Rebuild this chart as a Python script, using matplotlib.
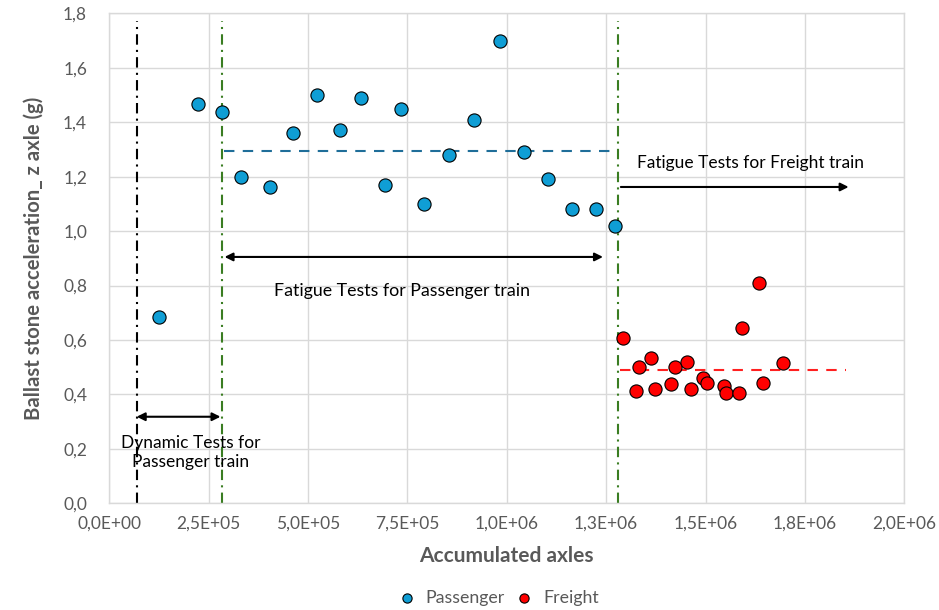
import matplotlib.pyplot as plt
from matplotlib.ticker import FixedLocator

plt.rcParams['font.family'] = ['Lato', 'DejaVu Sans']

# passenger train results
pass_x = [125800, 223100, 282800, 332100, 403500, 461400, 522500, 581200, 633200,
          693600, 733100, 792500, 853800, 918700, 982900, 1043300, 1103700,
          1164000, 1223600, 1273000]
pass_y = [0.686, 1.466, 1.439, 1.199, 1.161, 1.360, 1.499, 1.370, 1.489,
          1.170, 1.449, 1.101, 1.280, 1.408, 1.700, 1.289, 1.191,
          1.080, 1.080, 1.018]

# freight train results
frt_x = [1293100, 1324300, 1333400, 1362800, 1372800, 1413900, 1423900, 1453300,
         1462700, 1493600, 1504400, 1545700, 1552200, 1583400, 1592500, 1634500,
         1643800, 1694100]
frt_y = [0.608, 0.413, 0.500, 0.533, 0.419, 0.439, 0.500, 0.519,
         0.419, 0.461, 0.443, 0.430, 0.405, 0.405, 0.645, 0.808,
         0.443, 0.514]

pass_mean = 1.293
frt_mean = 0.490

# limits of the test phases
dyn_start = 69000
fat_pass_start = 282700
fat_frt_start = 1279000

xticks = [0, 250000, 500000, 750000, 1000000, 1250000, 1500000, 1750000, 2000000]
xlabels = ['0,0E+00', '2,5E+05', '5,0E+05', '7,5E+05', '1,0E+06', '1,3E+06',
           '1,5E+06', '1,8E+06', '2,0E+06']
yticks = [0.0, 0.2, 0.4, 0.6, 0.8, 1.0, 1.2, 1.4, 1.6, 1.8]
ylabels = ['0,0', '0,2', '0,4', '0,6', '0,8', '1,0', '1,2', '1,4', '1,6', '1,8']

grey = '#595959'
grid_c = '#D9D9D9'
green = '#3A7D22'

fig = plt.figure(figsize=(9.39, 6.10), dpi=100)
ax = fig.add_axes([0.1164, 0.1749, 0.8466, 0.8033])

ax.set_xlim(0, 2000000)
ax.set_ylim(0, 1.8)
ax.xaxis.set_major_locator(FixedLocator(xticks))
ax.set_xticklabels(xlabels)
ax.yaxis.set_major_locator(FixedLocator(yticks))
ax.set_yticklabels(ylabels)
ax.tick_params(length=0, labelsize=12.5, colors=grey)
ax.tick_params(axis='y', pad=16)
ax.tick_params(axis='x', pad=9)
ax.grid(True, color=grid_c, lw=1)
ax.set_axisbelow(True)
for s in ax.spines.values():
    s.set_color(grid_c)
    s.set_linewidth(1)

# phase boundaries
dd = (0, (5, 2.5, 1, 2.5))
ax.axvline(dyn_start, color='black', lw=1.5, ls=dd, ymax=0.985)
ax.axvline(fat_pass_start, color=green, lw=1.5, ls=dd, ymax=0.985)
ax.axvline(fat_frt_start, color=green, lw=1.5, ls=dd, ymax=0.985)

# mean levels
ax.hlines(pass_mean, 288000, 1265000, color='#1F6E99', lw=1.5, ls=(0, (5, 4)))
ax.hlines(frt_mean, 1284000, 1853000, color='#FF2020', lw=1.5, ls=(0, (5, 4)))

ax.scatter(pass_x, pass_y, s=90, c='#0F9ED5', edgecolors='black', linewidths=0.8,
           zorder=4, label='Passenger')
ax.scatter(frt_x, frt_y, s=90, c='#FF0000', edgecolors='black', linewidths=0.8,
           zorder=4, label='Freight')

# test phase annotations
arr = dict(arrowstyle='<|-|>', color='black', lw=1.5, mutation_scale=12,
           shrinkA=0, shrinkB=0)
ax.annotate('', xy=(dyn_start, 0.318), xytext=(fat_pass_start - 3000, 0.318),
            arrowprops=arr)
ax.text(204000, 0.188, 'Dynamic Tests for\nPassenger train', ha='center', va='center',
        fontsize=12.5, linespacing=1.25)

ax.annotate('', xy=(290000, 0.905), xytext=(1242000, 0.905), arrowprops=arr)
ax.text(736000, 0.781, 'Fatigue Tests for Passenger train', ha='center', va='center',
        fontsize=12.8)

arr1 = dict(arrowstyle='-|>', color='black', lw=1.5, mutation_scale=12,
            shrinkA=0, shrinkB=0)
ax.annotate('', xy=(1860000, 1.162), xytext=(1287000, 1.162), arrowprops=arr1)
ax.text(1612000, 1.249, 'Fatigue Tests for Freight train', ha='center', va='center',
        fontsize=12.5)

ax.set_xlabel('Accumulated axles', fontsize=15, fontweight='bold', color=grey,
              labelpad=10)
ax.set_ylabel('Ballast stone acceleration_ z axle (g)', fontsize=14.6,
              fontweight='bold', color=grey, labelpad=14)

leg = fig.legend(loc='center', bbox_to_anchor=(0.526, 0.02), ncol=2, frameon=False,
                 fontsize=12.8, handletextpad=0.05, columnspacing=0.1,
                 markerscale=0.7)
for t in leg.get_texts():
    t.set_color(grey)

fig.savefig('out.png', dpi=100)
